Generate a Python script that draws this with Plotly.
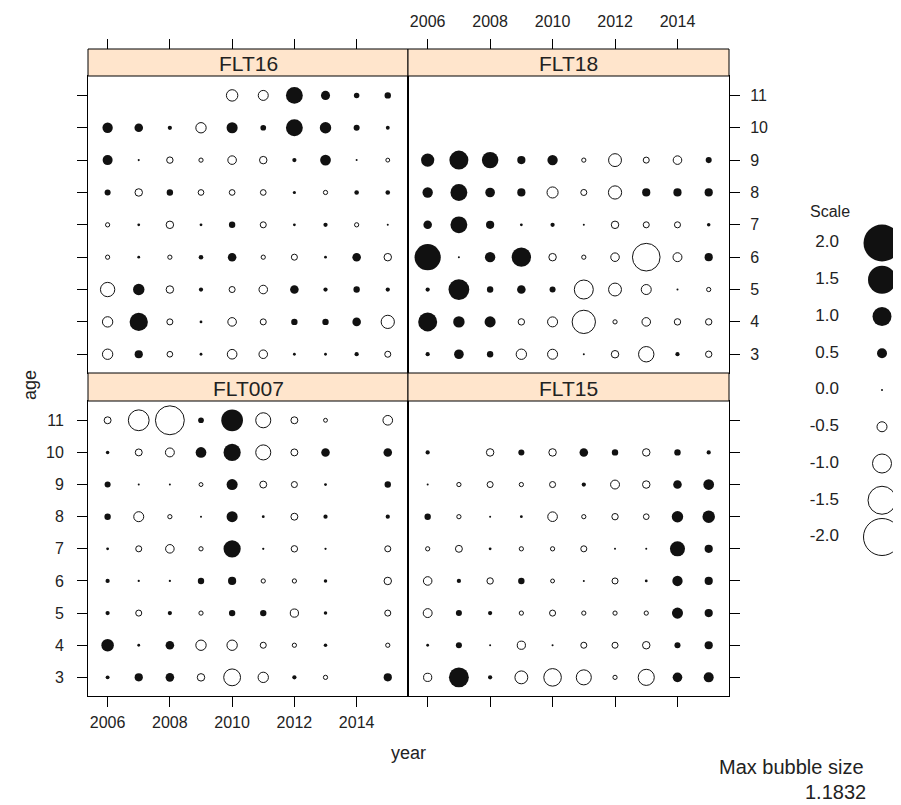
import plotly.graph_objects as go

# ---------------- data ----------------
years = [2006, 2007, 2008, 2009, 2010, 2011, 2012, 2013, 2014, 2015]
ages = [11, 10, 9, 8, 7, 6, 5, 4, 3]  # rows below are listed in this order

FLT16 = [
    [None, None, None, None, -0.58, -0.5, 0.88, 0.45, 0.25, 0.3],
    [0.52, 0.42, 0.18, -0.52, 0.56, 0.26, 0.88, 0.58, 0.28, 0.16],
    [0.5, 0.06, -0.3, -0.18, -0.42, -0.36, 0.18, 0.54, 0.05, -0.16],
    [0.28, -0.36, 0.3, -0.26, -0.26, -0.26, 0.12, -0.18, 0.2, 0.2],
    [-0.18, 0.1, -0.36, 0.1, 0.3, -0.28, 0.1, 0.18, -0.18, 0.05],
    [-0.18, 0.1, -0.18, 0.2, 0.42, -0.18, -0.28, 0.1, 0.42, -0.36],
    [-0.74, 0.58, -0.36, 0.18, -0.28, -0.42, 0.42, 0.18, 0.3, 0.18],
    [-0.52, 0.96, -0.28, 0.1, -0.42, -0.28, 0.3, 0.3, 0.42, -0.68],
    [-0.52, 0.4, -0.26, 0.1, -0.48, -0.42, 0.1, 0.1, 0.18, -0.28],
]

FLT18 = [
    [None] * 10,
    [None] * 10,
    [0.68, 1.0, 0.86, 0.4, 0.52, -0.18, -0.66, -0.28, -0.42, 0.28],
    [0.52, 0.88, 0.48, 0.4, -0.56, -0.28, -0.68, 0.4, 0.4, 0.4],
    [0.42, 0.88, 0.4, 0.1, 0.18, 0.05, -0.36, -0.28, -0.28, 0.14],
    [1.4, 0.05, 0.52, 1.02, -0.36, -0.18, -0.42, -1.48, -0.44, 0.4],
    [0.18, 1.1, 0.3, 0.42, 0.28, -1.0, -0.66, -0.5, 0.05, -0.18],
    [1.0, 0.58, 0.56, -0.3, -0.5, -1.24, -0.18, -0.42, -0.3, -0.3],
    [0.18, 0.48, 0.3, -0.52, -0.5, 0.05, -0.36, -0.8, 0.18, -0.3],
]

FLT007 = [
    [-0.33, -1.1, -1.55, 0.26, 1.15, -0.78, -0.33, -0.16, None, -0.48],
    [0.14, -0.33, -0.44, 0.54, 0.9, -0.78, -0.33, 0.42, None, 0.42],
    [0.28, 0.05, 0.05, -0.16, 0.56, -0.33, -0.28, 0.1, None, 0.3],
    [0.3, -0.5, -0.18, 0.05, 0.56, 0.1, -0.33, 0.18, None, 0.18],
    [0.1, -0.28, -0.42, -0.18, 0.9, 0.07, -0.3, 0.07, None, -0.28],
    [0.18, 0.07, 0.07, 0.3, 0.4, -0.18, -0.18, 0.14, None, -0.36],
    [0.18, -0.28, 0.18, -0.18, 0.3, 0.3, -0.4, 0.14, None, -0.28],
    [0.64, 0.1, 0.42, -0.52, -0.52, -0.28, -0.18, 0.14, None, -0.18],
    [0.16, 0.4, 0.42, -0.36, -0.88, -0.52, 0.18, -0.18, None, 0.4],
]

FLT15 = [
    [None] * 10,
    [0.18, None, -0.36, 0.28, -0.36, 0.42, 0.3, -0.36, 0.3, 0.18],
    [0.05, -0.18, -0.28, -0.18, -0.28, 0.18, -0.44, -0.36, 0.42, 0.54],
    [0.3, -0.18, 0.05, 0.1, -0.48, -0.18, -0.3, -0.26, 0.58, 0.64],
    [-0.18, -0.33, 0.1, -0.18, -0.18, -0.28, 0.05, 0.05, 0.78, 0.4],
    [-0.42, 0.18, -0.3, 0.3, -0.16, 0.05, -0.28, 0.1, 0.52, 0.4],
    [-0.44, 0.28, 0.18, -0.18, -0.28, -0.18, -0.18, -0.18, 0.56, 0.4],
    [0.1, 0.28, 0.05, -0.4, 0.05, -0.28, -0.28, -0.36, 0.28, 0.4],
    [-0.4, 1.05, 0.18, -0.66, -0.92, -0.78, -0.18, -0.84, 0.48, 0.5],
]

panels = [("FLT16", FLT16), ("FLT18", FLT18), ("FLT007", FLT007), ("FLT15", FLT15)]
scale_values = [2.0, 1.5, 1.0, 0.5, 0.0, -0.5, -1.0, -1.5, -2.0]
max_bubble_text = "1.1832"

# ---------------- geometry helpers ----------------
# page body has an 8px margin; the figure is sized to fit the window
OFF = 8
W, H = 901 - OFF, 805 - OFF
def px(x):
    return (x - OFF) / W
def py(y):
    return 1 - (y - OFF) / H

def diam(v):
    return max(2.0, 1.0 + 18.0 * abs(v))

FONT = "Liberation Sans, Arial, sans-serif"
TXT = "#222222"
INK = "#111111"

fig = go.Figure()

for k, (name, grid) in enumerate(panels, start=1):
    xs_p, ys_p, s_p, xs_n, ys_n, s_n = [], [], [], [], [], []
    for a, row in zip(ages, grid):
        for yr, v in zip(years, row):
            if v is None:
                continue
            if v >= 0:
                xs_p.append(yr); ys_p.append(a); s_p.append(diam(v))
            else:
                xs_n.append(yr); ys_n.append(a); s_n.append(diam(v))
    fig.add_trace(go.Scatter(x=xs_p, y=ys_p, mode="markers",
                             marker=dict(symbol="circle", size=s_p, color=INK, opacity=1,
                                         line=dict(width=0)),
                             xaxis=f"x{k}", yaxis=f"y{k}", showlegend=False,
                             hoverinfo="skip"))
    fig.add_trace(go.Scatter(x=xs_n, y=ys_n, mode="markers",
                             marker=dict(symbol="circle-open", size=s_n, color=INK, opacity=1,
                                         line=dict(width=1)),
                             xaxis=f"x{k}", yaxis=f"y{k}", showlegend=False,
                             hoverinfo="skip"))

# dummy traces so the top tick axes exist
fig.add_trace(go.Scatter(x=[2010], y=[7], mode="markers", marker=dict(opacity=0),
                         xaxis="x5", yaxis="y1", showlegend=False, hoverinfo="skip"))
fig.add_trace(go.Scatter(x=[2010], y=[7], mode="markers", marker=dict(opacity=0),
                         xaxis="x6", yaxis="y2", showlegend=False, hoverinfo="skip"))

# legend ("Scale")
pos = [v for v in scale_values if v >= 0]
neg = [v for v in scale_values if v < 0]
fig.add_trace(go.Scatter(x=[882] * len(pos), y=pos, mode="markers", cliponaxis=False,
                         marker=dict(symbol="circle", size=[diam(v) for v in pos],
                                     color=INK, opacity=1, line=dict(width=0)),
                         xaxis="x7", yaxis="y7", showlegend=False, hoverinfo="skip"))
fig.add_trace(go.Scatter(x=[882] * len(neg), y=neg, mode="markers", cliponaxis=False,
                         marker=dict(symbol="circle-open", size=[diam(v) for v in neg],
                                     color=INK, opacity=1, line=dict(width=1)),
                         xaxis="x7", yaxis="y7", showlegend=False, hoverinfo="skip"))
fig.add_trace(go.Scatter(x=[839] * len(scale_values), y=scale_values, mode="text",
                         cliponaxis=False,
                         text=[f"{v:.1f}" for v in scale_values],
                         textposition="middle left",
                         textfont=dict(family=FONT, size=17, color=TXT),
                         xaxis="x7", yaxis="y7", showlegend=False, hoverinfo="skip"))

xr = [2005.37, 2015.65]
yr_ = [2.42, 11.6]
xtick = [2006, 2008, 2010, 2012, 2014]
ytick = [3, 4, 5, 6, 7, 8, 9, 10, 11]

left_dom = [px(88), px(408)]
right_dom = [px(408), px(729)]
top_dom = [py(373), py(76)]
bot_dom = [py(696), py(401)]

base = dict(showgrid=False, zeroline=False, showline=True, mirror=True,
            linecolor="black", linewidth=1, tickcolor="black", tickwidth=1,
            ticklen=10, tickfont=dict(family=FONT, size=16, color=TXT))

def ax(**kw):
    d = dict(base)
    d.update(kw)
    return d

layout = dict(
    width=W, height=H, margin=dict(l=0, r=0, t=0, b=0),
    paper_bgcolor="white", plot_bgcolor="white",
    xaxis=ax(domain=left_dom, range=xr, anchor="y", ticks="", showticklabels=False),
    yaxis=ax(domain=top_dom, range=yr_, anchor="x", side="left", ticks="outside",
             tickvals=ytick, showticklabels=False),
    xaxis2=ax(domain=right_dom, range=xr, anchor="y2", ticks="", showticklabels=False),
    yaxis2=ax(domain=top_dom, range=yr_, anchor="x2", side="right", ticks="outside",
              tickvals=ytick, showticklabels=True, ticklabelstandoff=7),
    xaxis3=ax(domain=left_dom, range=xr, anchor="y3", side="bottom", ticks="outside",
              tickvals=xtick, showticklabels=True, ticklabelstandoff=2),
    yaxis3=ax(domain=bot_dom, range=yr_, anchor="x3", side="left", ticks="outside",
              tickvals=ytick, showticklabels=True, ticklabelstandoff=10),
    xaxis4=ax(domain=right_dom, range=xr, anchor="y4", side="bottom", ticks="outside",
              tickvals=xtick, showticklabels=False),
    yaxis4=ax(domain=bot_dom, range=yr_, anchor="x4", side="right", ticks="outside",
              tickvals=ytick, showticklabels=False),
    xaxis5=ax(overlaying="x", range=xr, anchor="free", position=py(49), side="top",
              showline=False, mirror=False, ticks="outside", tickvals=xtick,
              showticklabels=False),
    xaxis6=ax(overlaying="x2", range=xr, anchor="free", position=py(49), side="top",
              showline=False, mirror=False, ticks="outside", tickvals=xtick,
              showticklabels=True, ticklabelstandoff=6),
    xaxis7=dict(domain=[px(800), px(900)], range=[800, 900], anchor="y7",
                visible=False, fixedrange=True),
    yaxis7=dict(domain=[py(537), py(243)], range=[-2, 2], anchor="x7",
                visible=False, fixedrange=True),
)
fig.update_layout(**layout)

# strips
shapes = []
annotations = []
strip_pos = [(left_dom, 49, 76), (right_dom, 49, 76), (left_dom, 373, 401), (right_dom, 373, 401)]
for (name, _), (dom, y0, y1) in zip(panels, strip_pos):
    shapes.append(dict(type="rect", xref="paper", yref="paper", x0=dom[0], x1=dom[1],
                       y0=py(y1), y1=py(y0), fillcolor="#FFE5CC",
                       line=dict(color="black", width=1), layer="above"))
    annotations.append(dict(text=name, xref="paper", yref="paper",
                            x=(dom[0] + dom[1]) / 2, y=py((y0 + y1) / 2 + 1),
                            showarrow=False, font=dict(family=FONT, size=21, color=TXT),
                            xanchor="center", yanchor="middle"))

annotations += [
    dict(text="age", xref="paper", yref="paper", x=px(18), y=py(385), textangle=-90,
         showarrow=False, font=dict(family=FONT, size=18, color=TXT)),
    dict(text="year", xref="paper", yref="paper", x=px(408), y=py(765),
         showarrow=False, font=dict(family=FONT, size=18, color=TXT)),
    dict(text="Scale", xref="paper", yref="paper", x=px(852), y=py(211),
         yanchor="middle", showarrow=False, font=dict(family=FONT, size=16, color=TXT)),
    dict(text="Max bubble size", xref="paper", yref="paper", x=px(866), y=py(767),
         xanchor="right", yanchor="middle", showarrow=False,
         font=dict(family=FONT, size=20, color=TXT)),
    dict(text=max_bubble_text, xref="paper", yref="paper", x=px(868), y=py(792),
         xanchor="right", yanchor="middle", showarrow=False,
         font=dict(family=FONT, size=20, color=TXT)),
]
fig.update_layout(shapes=shapes, annotations=annotations)

fig.write_html("out.html")
